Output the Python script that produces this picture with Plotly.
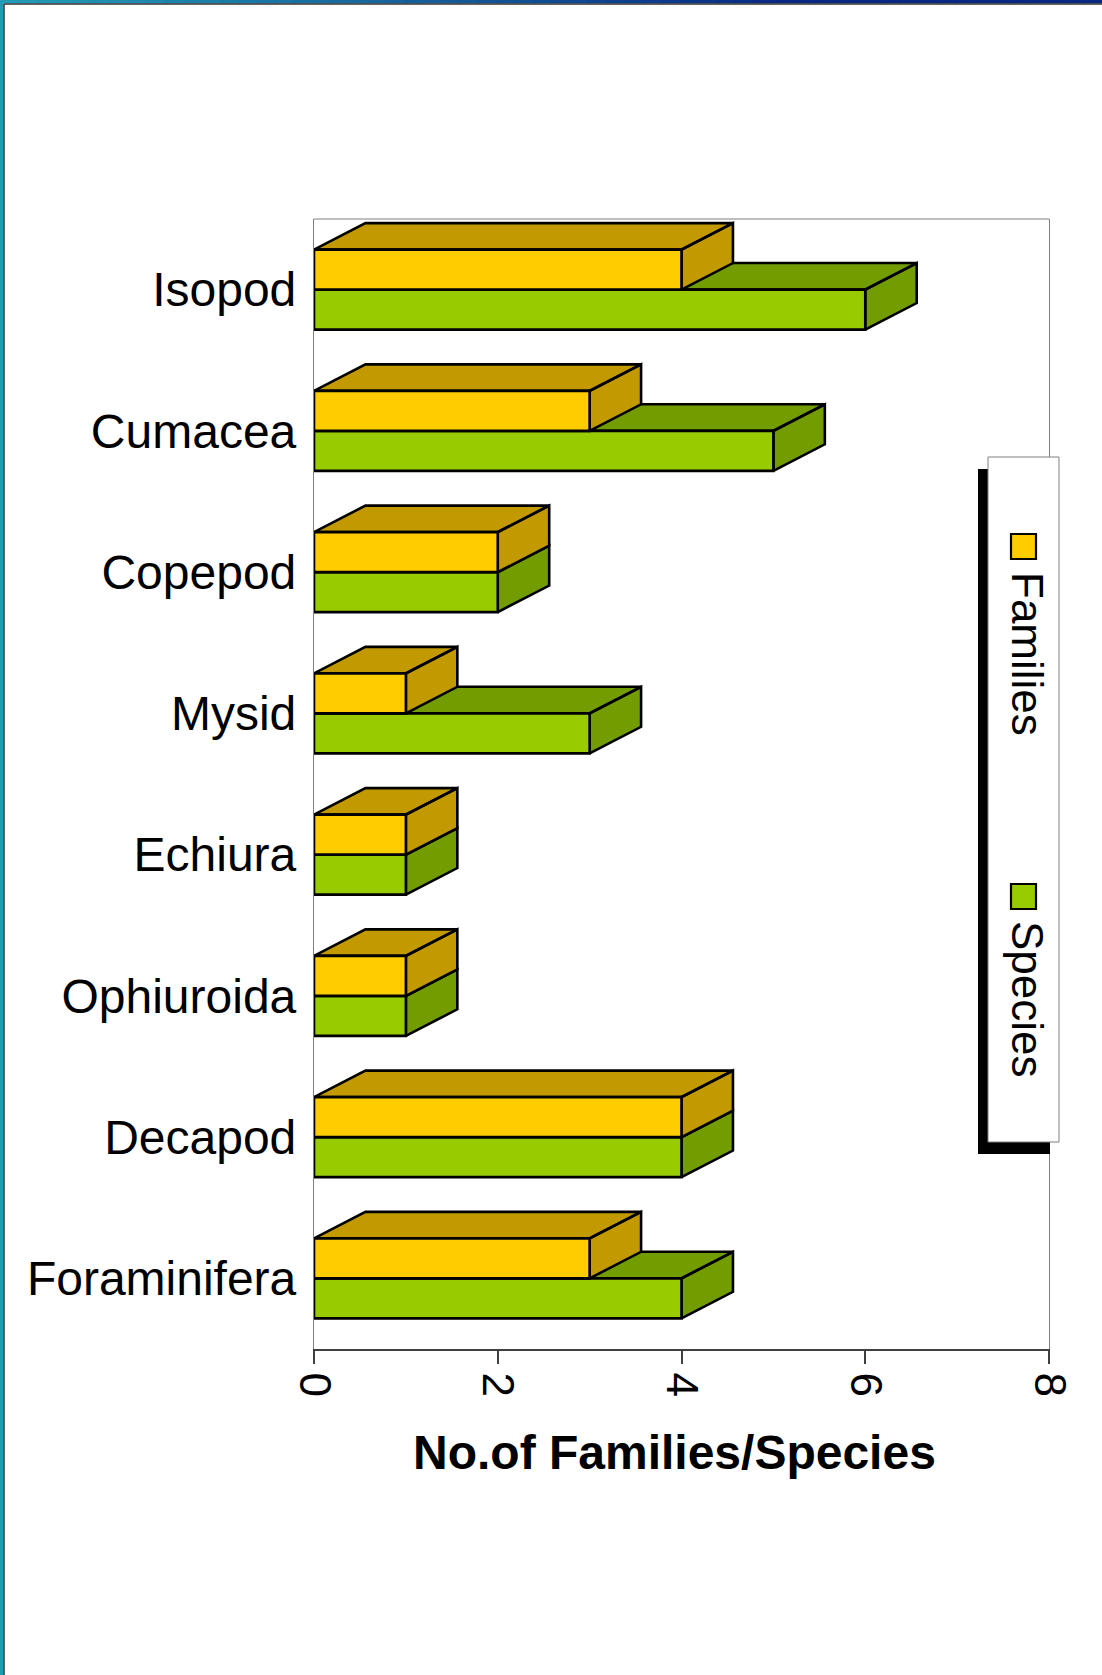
import plotly.graph_objects as go

# ---- data (bottom -> top) ----
categories = ["Foraminifera", "Decapod", "Ophiuroida", "Echiura", "Mysid", "Copepod", "Cumacea", "Isopod"]
families = [3, 4, 1, 1, 1, 2, 3, 4]
species = [4, 4, 1, 1, 3, 2, 5, 6]
x_ticks = [0, 2, 4, 6, 8]
series_names = ["Families", "Species"]
x_title = "No.of Families/Species"

# ---- style ----
W, H = 1102, 1675
L, R, T, B = 314, 1049, 219, 1349
FONT = "Liberation Sans, Arial, sans-serif"
YEL, YEL_D = "#FFCC00", "#C29A00"
GRN, GRN_D = "#99CC00", "#739C00"
BAR_H = 0.283      # bar thickness in category units
DX, DY = 0.56, 0.188  # 3-D depth offsets in data units


def px(x):
    return (x - L) / (R - L)


def py(y):
    return (B - y) / (B - T)


def faces(values, y_lo, y_hi):
    dark_x, dark_y, front_x, front_y = [], [], [], []
    for i, v in enumerate(values):
        y0, y1 = i + y_lo, i + y_hi
        # top face
        dark_x += [0, v, v + DX, DX, 0, None]
        dark_y += [y1, y1, y1 + DY, y1 + DY, y1, None]
        # side face
        dark_x += [v, v + DX, v + DX, v, v, None]
        dark_y += [y0, y0 + DY, y1 + DY, y1, y0, None]
        # front face
        front_x += [0, v, v, 0, 0, None]
        front_y += [y0, y0, y1, y1, y0, None]
    return dark_x, dark_y, front_x, front_y


fig = go.Figure()
line = dict(color="black", width=2.6)

gdx, gdy, gfx, gfy = faces(species, -BAR_H, 0)
ydx, ydy, yfx, yfy = faces(families, 0, BAR_H)

fig.add_trace(go.Scatter(x=gdx, y=gdy, fill="toself", fillcolor=GRN_D, mode="lines",
                         line=line, name=series_names[1], hoverinfo="skip", showlegend=False))
fig.add_trace(go.Scatter(x=gfx, y=gfy, fill="toself", fillcolor=GRN, mode="lines",
                         line=line, name=series_names[1], showlegend=False))
fig.add_trace(go.Scatter(x=ydx, y=ydy, fill="toself", fillcolor=YEL_D, mode="lines",
                         line=line, name=series_names[0], hoverinfo="skip", showlegend=False))
fig.add_trace(go.Scatter(x=yfx, y=yfy, fill="toself", fillcolor=YEL, mode="lines",
                         line=line, name=series_names[0], showlegend=False))

shapes = []
# plot frame top line
shapes.append(dict(type="line", xref="paper", yref="paper", x0=0, x1=1, y0=1, y1=1,
                   line=dict(color="#808080", width=1.2), layer="below"))

# slide border: top gradient band
n = 60
c0 = (0x22, 0x9C, 0xB6)
c1 = (0x08, 0x28, 0x82)
for k in range(n):
    t = k / (n - 1)
    c = tuple(round(c0[j] + (c1[j] - c0[j]) * min(1, t * 1.4)) for j in range(3))
    shapes.append(dict(type="rect", xref="paper", yref="paper",
                       x0=px(W * k / n), x1=px(W * (k + 1) / n + 1), y0=py(3.5), y1=py(0),
                       fillcolor="rgb(%d,%d,%d)" % c, line=dict(width=0), layer="above"))
shapes.append(dict(type="rect", xref="paper", yref="paper", x0=px(0), x1=px(3.5), y0=py(H), y1=py(0),
                   fillcolor="#1F9BB5", line=dict(width=0), layer="above"))
shapes.append(dict(type="line", xref="paper", yref="paper", x0=px(4), x1=px(W), y0=py(4), y1=py(4),
                   line=dict(color="#333333", width=1.5), layer="above"))
shapes.append(dict(type="line", xref="paper", yref="paper", x0=px(4), x1=px(4), y0=py(H), y1=py(4),
                   line=dict(color="#333333", width=1.5), layer="above"))

# legend (drawn manually so the text can be rotated like the original)
shapes.append(dict(type="rect", xref="paper", yref="paper", x0=px(978), x1=px(1050), y0=py(1154), y1=py(469),
                   fillcolor="black", line=dict(width=0), layer="above"))
shapes.append(dict(type="rect", xref="paper", yref="paper", x0=px(988), x1=px(1059), y0=py(1142), y1=py(457),
                   fillcolor="white", line=dict(color="#808080", width=1), layer="above"))
shapes.append(dict(type="rect", xref="paper", yref="paper", x0=px(1011), x1=px(1036), y0=py(559), y1=py(534),
                   fillcolor=YEL, line=dict(color="black", width=2.2), layer="above"))
shapes.append(dict(type="rect", xref="paper", yref="paper", x0=px(1011), x1=px(1036), y0=py(909), y1=py(884),
                   fillcolor=GRN, line=dict(color="black", width=2.2), layer="above"))

annotations = [
    dict(text=series_names[0], xref="paper", yref="paper", x=px(1028), y=py(654), textangle=90,
         showarrow=False, xanchor="center", yanchor="middle", font=dict(family=FONT, size=44, color="black")),
    dict(text=series_names[1], xref="paper", yref="paper", x=px(1028), y=py(999), textangle=90,
         showarrow=False, xanchor="center", yanchor="middle", font=dict(family=FONT, size=44, color="black")),
    # x-axis title
    dict(text="<b>%s</b>" % x_title, xref="paper", yref="paper", x=px(674), y=py(1452),
         showarrow=False, xanchor="center", yanchor="middle", font=dict(family=FONT, size=48, color="black")),
]

fig.update_layout(
    width=W, height=H,
    margin=dict(l=L, r=W - R, t=T, b=H - B),
    paper_bgcolor="white", plot_bgcolor="white",
    font=dict(family=FONT, color="black"),
    shapes=shapes, annotations=annotations,
    showlegend=False,
)
fig.update_xaxes(
    range=[0, 8], tickvals=x_ticks, ticktext=[str(v) for v in x_ticks], tickangle=90,
    showgrid=False, zeroline=False, showline=True, linecolor="#404040", linewidth=1.5,
    ticks="outside", ticklen=13, tickwidth=1.5, tickcolor="#404040",
    tickfont=dict(family=FONT, size=44, color="black"),
)
fig.update_yaxes(
    range=[-0.5, 7.5], tickvals=list(range(len(categories))), ticktext=categories,
    showgrid=False, zeroline=False, showline=True, linecolor="#808080", linewidth=1.2, mirror=True,
    ticks="", ticklabelstandoff=7,
    tickfont=dict(family=FONT, size=48, color="black"),
)

fig.write_html("out.html", config={"displayModeBar": False},
               post_script="document.body.style.margin='0px';")
